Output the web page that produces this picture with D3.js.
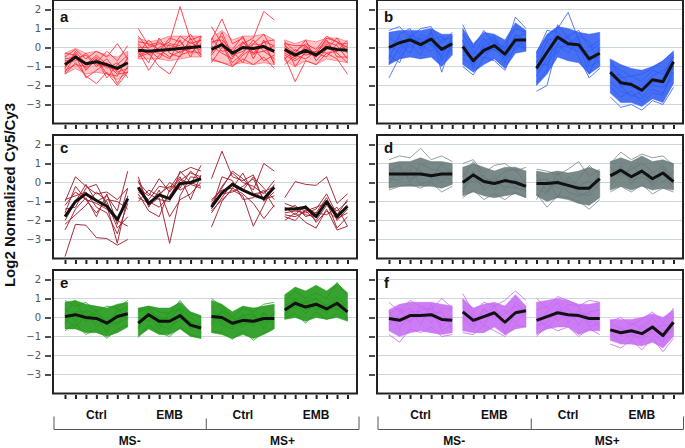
<!DOCTYPE html>
<html lang="en">
<head>
<meta charset="UTF-8">
<title>Cluster profiles</title>
<script src="https://cdn.jsdelivr.net/npm/d3@7"></script>
<style>
body { margin: 0; background: #fff; font-family: "Liberation Sans", Arial, sans-serif; }
svg { display: block; }
.grid line { stroke: #cfd7de; stroke-width: 1; }
.frame { fill: none; stroke: #222; stroke-width: 2; }
.mean { fill: none; stroke: #111; stroke-width: 3; stroke-linejoin: round; }
.gene { fill: none; stroke-width: 1; }
.ylab { font-family: "DejaVu Sans", sans-serif; font-size: 10px; fill: #555; }
.letter { font-size: 15px; font-weight: bold; fill: #111; }
.cond { font-size: 12px; font-weight: bold; fill: #111; }
.brace { fill: none; stroke: #555; stroke-width: 1; }
</style>
</head>
<body>
<svg width="685" height="448"></svg>
<script>
// labels
var groupNames = ["Ctrl", "EMB", "Ctrl", "EMB"];
var msNames = ["MS-", "MS+"];
var yTicks = [2, 1, 0, -1, -2, -3];
var letters = ["a", "b", "c", "d", "e", "f"];

// panel a
var meanA = [-0.9,-0.5,-0.85,-0.75,-0.9,-1.1,-0.8, -0.15,-0.2,-0.15,-0.1,-0.05,0.0,0.05, -0.1,0.15,-0.3,0.0,-0.05,0.05,-0.2, -0.1,-0.4,-0.15,-0.4,0.0,-0.1,-0.15];
var hiA = [-0.3,-0.05,-0.3,-0.2,-0.4,-0.5,-0.2, 0.5,0.3,0.4,0.6,0.6,0.6,0.6, 0.5,0.9,0.4,0.6,0.6,0.7,0.4, 0.4,0.2,0.4,0.3,0.5,0.5,0.3];
var loA = [-1.4,-1.1,-1.4,-1.3,-1.4,-1.7,-1.3, -0.6,-0.6,-0.6,-0.7,-0.6,-0.5,-0.5, -0.7,-0.8,-0.9,-0.8,-0.9,-0.8,-0.9, -0.7,-1.0,-0.7,-0.9,-0.6,-0.7,-0.8];
var linesA = [
  [-0.5,-0.1,-0.6,-0.2,-0.5,0.2,-0.6, 1.0,0.1,0.3,-0.2,0.6,0.2,0.4, 0.4,1.5,0.2,0.5,-0.3,0.3,0.1, 0.3,-0.2,0.2,-0.1,0.6,0.3,0.0],
  [-1.4,-0.8,-1.5,-1.9,-1.3,-2.0,-1.3, -0.5,-0.3,-1.0,-1.4,-0.4,-0.2,-0.3, -0.6,-0.8,-1.0,-0.6,-0.9,-0.5,-1.1, -0.5,-1.8,-0.7,-0.9,-0.3,-0.6,-1.4],
  [-1.0,-0.3,-1.2,-0.6,-1.4,-1.5,-0.5, 0.2,-0.4,0.0,0.3,2.15,0.4,0.6, 0.2,0.6,-0.5,0.2,0.5,1.9,1.45, -0.3,-0.6,0.1,-0.5,0.2,-0.2,0.1],
  [-0.7,-0.6,-0.4,-1.0,-0.6,-1.3,-1.1, -0.3,0.4,-0.2,0.5,0.3,-0.3,0.2, -0.4,0.3,-0.8,-0.3,0.4,-0.2,-0.6, 0.1,-0.3,0.4,-0.7,-0.1,0.5,-0.3],
  [-1.2,-0.9,-1.0,-0.5,-1.1,-0.8,-1.6, -0.1,-0.8,0.5,-0.3,-0.5,0.5,-0.4, 0.5,-0.2,-0.1,0.6,-0.6,0.4,-0.9, -0.4,-0.7,-0.3,-0.2,0.4,-0.5,-0.5],
  [-0.3,-0.4,-0.9,-0.8,-0.2,-0.7,0.1, 0.6,-0.1,-0.6,0.2,0.1,0.7,-0.1, -0.3,0.8,-0.4,-0.2,0.2,0.7,-0.3, -0.6,-0.1,-0.4,-0.3,-0.5,0.2,0.2],
  [-1.3,-0.4,-1.6,-1.2,-0.8,-1.9,-1.0, -0.4,-0.2,-0.3,-0.6,0.4,-0.5,0.6, 1.1,0.2,-1.0,-0.4,0.0,-0.7,-0.4, 0.2,-1.0,-0.2,-0.5,0.1,-0.3,-0.8],
  [-0.8,-0.7,-0.3,-0.9,-1.0,-1.2,-0.6, 0.3,0.2,-0.1,-0.5,-0.2,-0.1,0.4, -0.8,0.0,-0.2,0.3,-0.4,0.3,0.4, -0.2,-0.5,0.0,-0.3,0.3,0.1,-0.6],
  [-1.1,-0.2,-0.9,-0.4,-0.9,-1.4,-1.3, -0.2,-1.2,-0.4,0.0,-0.3,0.3,-0.2, 0.1,-0.3,-0.6,0.3,-0.3,-0.2,0.1, -0.9,-0.4,-0.6,-0.2,-0.3,-0.2,0.4],
  [-0.6,-0.5,-1.1,-0.6,-1.6,-0.9,-0.4, 0.0,0.0,0.2,0.1,0.0,0.1,-0.5, 0.3,0.4,-0.2,-0.8,0.2,0.1,-0.8, 0.2,0.1,0.1,-0.4,0.5,0.3,-0.2]
];

// panel b
var meanB = [0.0,0.25,0.4,0.15,0.45,-0.1,0.2, 0.05,-0.7,-0.15,0.1,-0.35,0.4,0.4, -1.1,-0.25,0.55,0.2,0.15,-0.6,-0.3, -1.3,-1.85,-1.95,-2.25,-1.7,-1.8,-0.75];
var hiB = [0.8,0.9,0.9,0.9,1.0,0.7,0.7, 1.0,0.2,0.8,0.7,0.4,1.3,0.9, -0.2,0.7,1.1,1.0,0.8,0.7,0.8, -0.6,-0.9,-1.1,-1.2,-1.0,-0.7,-0.2];
var loB = [-0.9,-0.6,-0.5,-0.6,-0.5,-1.0,-0.4, -0.9,-1.3,-0.9,-0.6,-1.1,-0.3,-0.2, -2.0,-1.4,-0.5,-0.7,-0.8,-1.4,-1.0, -2.4,-2.9,-2.9,-3.1,-2.7,-2.9,-1.9];
var linesB = [
  [-1.6,-0.5,0.2,-0.4,0.8,-1.3,0.3, 1.2,0.0,0.9,0.2,-0.1,1.6,1.0, -0.5,0.6,1.0,1.85,0.4,-0.8,0.0, -0.9,-1.2,-1.5,-1.4,-1.1,-0.7,-0.2],
  [0.9,1.1,0.5,1.0,1.1,0.2,0.8, -1.0,-1.45,-0.5,-0.7,-1.2,0.1,0.0, -2.3,-2.0,0.2,0.6,-0.5,-1.6,-1.1, -2.6,-3.15,-3.0,-3.3,-2.8,-3.0,-2.1],
  [-0.4,-0.8,0.5,0.3,0.2,-0.5,0.6, 0.3,-0.4,0.5,-0.2,0.2,1.0,0.8, -0.3,0.9,0.8,0.2,0.6,0.3,-0.9, -0.7,-1.6,-1.5,-1.8,-1.2,-1.4,-0.5],
  [0.5,0.2,-0.3,0.7,0.4,0.6,-0.2, -0.6,-0.9,0.1,0.5,-0.8,0.6,0.7, -1.5,-0.6,0.2,-0.3,0.5,-1.0,-0.7, -1.8,-2.3,-2.5,-2.7,-2.2,-2.4,-1.3],
  [-0.6,0.7,1.0,-0.1,0.9,-0.7,0.1, 0.7,-0.2,-0.6,0.3,0.0,0.3,0.1, -1.8,-1.2,1.2,0.5,-0.1,-0.2,0.2, -1.0,-2.1,-1.8,-2.6,-2.0,-2.1,-1.6],
  [0.2,-0.3,0.6,0.1,-0.2,0.4,0.5, -0.4,-0.5,-0.3,-0.1,-0.6,-0.1,0.5, -0.8,0.3,-0.3,0.6,0.9,0.0,0.4, -1.5,-1.4,-2.1,-2.0,-1.5,-1.2,-0.9],
  [0.0,0.5,0.0,0.5,0.3,-0.4,0.4, 0.4,-1.1,0.3,0.6,-0.4,0.7,0.3, -1.2,0.4,0.5,0.0,-0.2,-0.6,-0.5, -2.1,-2.6,-2.3,-2.9,-2.4,-2.5,-1.0],
  [-0.9,0.0,0.7,0.4,0.1,0.0,-0.3, -0.2,-0.6,0.0,0.4,-0.5,0.2,-0.1, -0.9,-0.9,0.0,0.1,0.2,-1.4,-0.1, -1.2,-2.0,-2.6,-2.3,-1.9,-1.6,-0.4]
];

// panel c (few genes, no band)
var meanC = [-1.8,-1.0,-0.6,-0.95,-1.25,-1.95,-0.85, -0.25,-1.1,-0.65,-0.85,-0.05,0.0,0.2, -1.3,-0.55,-0.1,-0.4,-0.65,-0.85,-0.25, -1.4,-1.4,-1.3,-1.8,-1.0,-1.8,-1.25];
var hiC = null;
var loC = null;
var linesC = [
  [-3.9,-2.2,-2.25,-2.9,-2.95,-3.3,-3.0, 0.3,-1.3,-0.4,-1.8,-0.9,-0.6,0.0, -2.35,-1.0,-0.3,-0.6,-1.1,-1.9,-1.2, -2.0,-1.6,-2.1,-2.4,-1.4,-2.5,-2.3],
  [-1.0,0.3,-0.2,-0.6,-0.5,-0.9,-0.3, -0.5,-0.9,-0.2,-0.3,0.5,0.8,0.6, 0.2,1.65,0.3,0.1,0.4,-1.0,-0.5, -0.8,0.05,-0.1,-0.15,0.3,-1.1,-0.6],
  [-2.0,-1.0,-0.1,-1.0,-0.7,-1.5,0.6, -0.3,-0.7,0.2,-0.5,0.2,-0.1,0.9, -1.0,-0.3,0.6,0.2,-0.4,1.0,0.6, -1.1,-1.3,-1.5,-1.3,-1.1,-1.5,-1.0],
  [-2.5,-1.4,-0.8,-1.8,-0.6,-2.2,-0.3, -0.6,-1.5,-1.8,-0.4,0.3,-0.9,0.4, -1.5,-0.9,-0.4,-0.7,-2.3,-1.2,-0.1, -1.7,-1.8,-1.5,-2.0,-1.2,-1.7,-0.9],
  [-1.4,-1.3,-0.3,-0.1,-1.2,-3.2,-0.7, 0.1,-1.2,-0.8,-3.2,-0.7,0.3,0.2, -1.2,-0.2,0.5,0.0,-0.2,-0.6,0.1, -1.5,-1.2,-1.8,-1.6,-0.8,-2.0,-1.4],
  [-1.2,-0.5,-0.9,-1.6,-0.9,-1.0,-1.4, -0.8,-1.1,-0.6,-0.2,-0.3,0.6,0.1, -1.6,-0.8,0.0,-0.4,0.3,-0.3,-0.9, -1.3,-1.7,-1.2,-2.1,-1.5,-1.9,-1.6],
  [-2.2,-1.7,-1.2,-0.5,-1.0,-2.4,-1.8, -1.0,-0.4,-0.7,0.0,-0.4,-0.1,-0.3, -1.4,0.3,0.1,-0.9,-0.8,-0.4,-1.3, -1.8,-2.0,-1.4,-1.6,-1.7,-1.3,-2.3],
  [-0.9,-0.7,-0.5,-1.3,-1.6,-2.7,-1.1, 0.0,-0.6,-0.9,-1.0,0.6,0.0,-0.2, -0.9,-0.4,-0.3,0.5,-0.6,-0.5,-0.2, -1.6,-1.5,-1.6,-1.4,-0.6,-1.7,-1.2],
  [-1.6,-0.2,-0.9,-1.1,-1.4,-2.0,-2.3, -0.4,-1.0,-1.3,-0.7,0.1,0.5,0.3, -1.1,-0.6,-0.5,-0.2,0.2,-0.9,-0.7, -1.4,-1.4,-1.7,-1.8,-1.0,-2.4,-1.8]
];

// panel d
var meanD = [0.45,0.45,0.45,0.45,0.35,0.45,0.45, 0.0,0.4,0.05,-0.05,0.1,0.0,-0.2, -0.05,-0.05,0.0,-0.15,-0.3,-0.3,0.2, 0.35,0.65,0.3,0.6,0.2,0.5,0.05];
var hiD = [1.0,1.1,1.1,1.3,1.1,1.1,1.0, 0.8,1.0,0.8,0.6,0.8,0.8,0.6, 0.6,0.5,0.6,0.5,0.6,0.8,0.6, 1.1,1.3,1.1,1.4,1.1,1.2,1.0];
var loD = [-0.3,-0.2,-0.2,-0.2,-0.2,-0.3,-0.1, -0.7,-0.5,-0.7,-0.8,-0.7,-0.6,-0.8, -0.7,-1.0,-0.8,-0.9,-1.1,-1.2,-0.8, -0.4,-0.2,-0.4,-0.2,-0.4,-0.3,-0.4];
var linesD = [
  [1.2,1.4,1.3,1.8,1.2,1.4,1.1, 1.0,1.2,0.5,0.9,1.0,0.6,0.8, 0.7,0.6,0.4,0.7,1.1,0.3,0.7, 1.0,1.6,1.2,1.5,1.3,1.4,0.9],
  [-0.4,-0.2,-0.1,-0.3,0.0,-0.5,-0.2, -0.8,-0.4,-0.9,-0.6,-0.9,-0.5,-0.8, -0.6,-1.3,-0.7,-0.8,-1.0,-1.4,-0.9, -0.5,-0.2,-0.5,-0.1,-0.6,-0.3,-0.5],
  [0.8,0.3,0.9,0.6,0.2,1.0,0.3, 0.3,1.1,0.2,0.1,0.6,0.7,-0.1, 0.4,-0.5,0.5,-0.3,0.2,0.9,0.4, 0.8,0.2,0.9,0.4,0.5,0.9,0.2],
  [0.0,0.7,0.2,0.4,0.5,0.0,0.8, -0.3,0.2,-0.2,0.3,-0.4,0.2,-0.5, -0.9,0.1,-0.3,0.1,-0.6,-0.7,0.0, 0.0,0.9,-0.1,0.7,-0.2,0.5,-0.3],
  [0.6,0.9,0.0,1.0,0.7,0.6,0.0, 0.5,0.0,0.4,-0.4,0.3,-0.3,0.2, 0.1,0.2,-0.8,0.3,-0.2,0.1,-0.4, 0.5,0.4,0.7,1.0,0.6,0.0,0.6],
  [0.2,0.1,0.7,-0.1,0.1,0.3,0.6, -0.5,0.6,-0.4,0.0,-0.2,-0.3,-0.4, -0.3,-0.6,0.2,-0.5,-0.7,-0.5,0.6, -0.2,0.5,0.1,0.3,0.0,0.8,-0.1]
];

// panel e
var meanE = [0.05,0.15,0.0,-0.05,-0.3,0.05,0.2, -0.3,0.15,-0.2,-0.2,0.1,-0.4,-0.55, 0.05,0.0,-0.3,-0.15,-0.2,-0.05,-0.05, 0.4,0.75,0.55,0.7,0.45,0.75,0.3];
var hiE = [0.8,0.9,0.7,0.6,0.5,0.7,0.8, 0.5,0.6,0.5,0.5,0.8,0.3,0.1, 0.9,0.7,0.3,0.6,0.5,0.6,0.7, 1.2,1.6,1.4,1.7,1.4,1.8,1.3];
var loE = [-0.6,-0.6,-0.8,-0.8,-1.0,-0.8,-0.5, -1.0,-0.6,-0.9,-0.9,-0.6,-1.0,-1.1, -0.8,-0.9,-1.1,-0.9,-1.1,-0.9,-0.6, -0.1,0.0,-0.2,0.0,-0.1,0.0,-0.2];
var linesE = [
  [0.9,0.6,0.8,0.3,0.6,0.5,0.9, 0.4,0.6,0.3,0.2,0.9,0.2,0.0, 1.0,0.6,0.0,0.5,0.3,0.7,0.8, 0.9,1.4,1.0,1.3,1.0,1.85,1.1],
  [-0.7,-0.3,-0.9,-0.6,-1.1,-0.6,-0.4, -1.05,-0.4,-0.8,-1.0,-0.5,-0.9,-1.1, -0.7,-0.8,-1.15,-0.7,-1.2,-0.8,-0.5, 0.0,0.2,-0.3,0.3,-0.1,0.2,-0.1],
  [0.2,0.9,-0.2,0.4,-0.4,0.3,0.6, -0.5,0.2,-0.6,0.3,0.4,-0.6,-0.3, 0.4,-0.4,-0.6,0.2,-0.5,0.3,-0.4, 0.6,0.9,0.2,0.8,0.3,1.1,0.5],
  [-0.3,0.3,0.3,-0.5,-0.1,-0.3,0.0, 0.0,-0.2,0.1,-0.5,-0.1,-0.2,-0.8, -0.4,0.4,0.0,-0.5,0.1,-0.3,0.2, 0.2,0.6,0.9,0.4,0.7,0.5,0.0],
  [0.5,-0.2,0.4,0.1,-0.8,0.5,-0.1, 0.3,0.5,-0.1,0.0,0.5,0.0,-0.4, -0.2,0.3,-0.2,0.1,0.2,-0.6,0.3, 0.7,0.5,0.8,1.0,0.6,0.4,0.8],
  [-0.1,-0.5,0.1,0.2,-0.2,-0.4,0.5, -0.6,0.5,-0.4,-0.6,0.2,-0.2,-0.6, 0.6,-0.2,-0.4,-0.3,-0.3,0.2,-0.2, 0.1,1.0,0.4,0.6,0.2,0.9,-0.1]
];

// panel f
var meanF = [-0.05,-0.15,0.1,0.1,0.15,-0.1,-0.15, 0.3,-0.15,0.05,0.25,-0.25,0.25,0.35, -0.15,0.05,0.25,0.15,0.1,-0.05,-0.05, -0.65,-0.8,-0.7,-0.85,-0.5,-0.95,-0.25];
var hiF = [0.4,0.7,0.8,0.8,0.8,0.7,0.6, 1.0,0.5,0.7,0.8,0.6,1.2,0.6, 0.8,0.9,1.0,0.9,0.7,0.7,0.8, -0.1,-0.1,-0.1,0.0,0.2,0.0,0.4];
var loF = [-0.7,-1.0,-0.8,-0.7,-0.8,-0.9,-0.8, -0.7,-0.8,-0.8,-0.5,-0.9,-0.6,-0.5, -0.9,-0.6,-0.5,-0.5,-0.9,-0.7,-0.7, -1.2,-1.4,-1.4,-1.5,-1.3,-1.6,-1.0];
var linesF = [
  [0.8,0.3,0.9,0.6,0.4,1.0,0.5, 1.25,0.3,0.8,0.6,0.9,1.4,0.9, 1.0,0.5,1.1,0.9,0.6,0.9,0.8, -0.2,0.0,-0.4,-0.1,0.3,-0.3,0.5],
  [-0.9,-1.3,-0.6,-0.8,-0.5,-1.0,-0.9, -0.8,-0.9,-0.4,-0.7,-1.0,-0.4,-0.5, -1.0,-0.4,-0.7,-0.5,-1.0,-0.6,-0.9, -1.4,-1.6,-1.2,-1.7,-1.1,-1.8,-1.1],
  [0.2,0.5,-0.3,0.6,0.2,0.3,-0.6, 0.6,-0.4,0.5,0.0,0.2,0.6,-0.1, 0.4,0.6,-0.2,0.5,-0.4,0.3,0.4, -0.4,-1.0,-0.3,-0.6,0.0,-0.7,-0.6],
  [-0.4,0.2,0.5,-0.4,0.7,-0.5,0.1, -0.2,0.2,-0.5,0.7,-0.9,0.3,0.6, -0.6,0.3,0.8,-0.3,0.4,-0.5,-0.3, -1.0,-0.5,-1.2,-0.4,-0.8,-1.3,0.1],
  [0.3,-0.6,0.3,0.3,-0.3,0.5,0.4, 0.0,-0.6,0.4,0.1,0.4,-0.3,0.3, -0.4,-0.3,0.5,0.0,0.2,0.2,-0.5, -0.8,-1.3,-0.9,-1.1,-0.4,-0.9,-0.7],
  [-0.3,0.0,-0.2,0.4,0.5,-0.7,-0.4, 0.9,0.0,-0.3,0.3,-0.5,0.8,0.2, 0.2,-0.6,0.1,0.7,0.6,-0.3,0.2, -0.3,-0.6,-0.8,-1.3,-0.6,-0.4,-0.4]
];

var svg = d3.select("svg");
var colLeft = [53, 377], colRight = [357, 683];
var rowTop = [0, 135, 270], panelH = 123.5;

var panels = [
  { mean: meanA, hi: hiA, lo: loA, lines: linesA, color: "#ff2a36", band: 0.28, lineOp: 0.85 },
  { mean: meanB, hi: hiB, lo: loB, lines: linesB, color: "#2d5cf2", band: 0.88, lineOp: 0.8 },
  { mean: meanC, hi: hiC, lo: loC, lines: linesC, color: "#a3222f", band: 0, lineOp: 0.95 },
  { mean: meanD, hi: hiD, lo: loD, lines: linesD, color: "#667878", band: 0.88, lineOp: 0.7 },
  { mean: meanE, hi: hiE, lo: loE, lines: linesE, color: "#22991a", band: 0.9, lineOp: 0.75 },
  { mean: meanF, hi: hiF, lo: loF, lines: linesF, color: "#c568f2", band: 0.86, lineOp: 0.8 }
];

panels.forEach(function(p, k) {
  var col = k % 2, row = Math.floor(k / 2);
  var left = colLeft[col], right = colRight[col], top = rowTop[row];
  var x = d3.scaleLinear().domain([0, 27]).range([left + 12, right - 9.5]);
  var y = d3.scaleLinear().domain([-4, 2.5]).range([top + panelH, top]);
  var g = svg.append("g");

  // gridlines
  g.append("g").attr("class", "grid").selectAll("line")
    .data(yTicks).enter().append("line")
    .attr("x1", left).attr("x2", right)
    .attr("y1", function(d) { return y(d); })
    .attr("y2", function(d) { return y(d); });

  // y axis ticks (labels only on left column)
  var yAxis = d3.axisLeft(y).tickValues(yTicks).tickSize(6).tickPadding(4)
    .tickFormat(col === 0 ? d3.format("d") : "");
  var ya = g.append("g").attr("transform", "translate(" + (left - 2) + ",0)").call(yAxis);
  ya.select(".domain").remove();
  ya.selectAll("line").attr("stroke", "#222").attr("stroke-width", 1.6);
  ya.selectAll("text").attr("class", "ylab").attr("fill", "#555");

  // x ticks
  var xAxis = d3.axisBottom(x).tickValues(d3.range(28)).tickSize(4).tickFormat("");
  var xa = g.append("g").attr("transform", "translate(0," + (top + panelH + 1.5) + ")").call(xAxis);
  xa.select(".domain").remove();
  xa.selectAll("line").attr("stroke", "#222").attr("stroke-width", 2);

  var line = d3.line().x(function(d) { return x(d.i); }).y(function(d) { return y(d.v); });
  var area = d3.area().x(function(d) { return x(d.i); })
    .y0(function(d) { return y(d.lo); }).y1(function(d) { return y(d.hi); });

  for (var gi = 0; gi < 4; gi++) {
    var idx = d3.range(gi * 7, gi * 7 + 7);
    if (p.hi) {
      g.append("path")
        .datum(idx.map(function(i) { return { i: i, hi: p.hi[i], lo: p.lo[i] }; }))
        .attr("fill", p.color).attr("fill-opacity", p.band)
        .attr("stroke", p.color).attr("stroke-opacity", 0.45).attr("stroke-width", 1)
        .attr("d", area);
    }
    p.lines.forEach(function(vals) {
      g.append("path")
        .datum(idx.map(function(i) { return { i: i, v: vals[i] }; }))
        .attr("class", "gene").attr("stroke", p.color).attr("stroke-opacity", p.lineOp)
        .attr("d", line);
    });
    g.append("path")
      .datum(idx.map(function(i) { return { i: i, v: p.mean[i] }; }))
      .attr("class", "mean")
      .attr("d", line);
  }

  g.append("rect").attr("class", "frame")
    .attr("x", left).attr("y", top).attr("width", right - left).attr("height", panelH);

  g.append("text").attr("class", "letter")
    .attr("x", left + 7).attr("y", top + (row === 0 ? 22 : 18))
    .text(letters[k]);

  // condition labels under the bottom row
  if (row === 2) {
    var yb = 429.5;
    var mid = (x(13) + x(14)) / 2;
    var rEnd = Math.min(right + 2, 683.5);
    g.append("path").attr("class", "brace")
      .attr("d", "M" + (left + 1) + "," + (yb - 13) + "V" + yb + "H" + rEnd + "V" + (yb - 13) +
        "M" + mid + "," + (yb - 11) + "V" + yb);
    groupNames.forEach(function(name, j) {
      g.append("text").attr("class", "cond")
        .attr("x", (x(j * 7) + x(j * 7 + 6)) / 2).attr("y", 419)
        .attr("text-anchor", "middle").text(name);
    });
    msNames.forEach(function(name, j) {
      var cx = j === 0 ? (left + mid) / 2 : (mid + rEnd) / 2;
      g.append("text").attr("class", "cond")
        .attr("x", cx).attr("y", 444.5)
        .attr("text-anchor", "middle").text(name);
    });
  }
});

svg.append("text")
  .attr("transform", "translate(15,195) rotate(-90)")
  .attr("text-anchor", "middle")
  .style("font-size", "15px").style("font-weight", "bold").attr("fill", "#111")
  .text("Log2 Normalized Cy5/Cy3");
</script>
</body>
</html>
